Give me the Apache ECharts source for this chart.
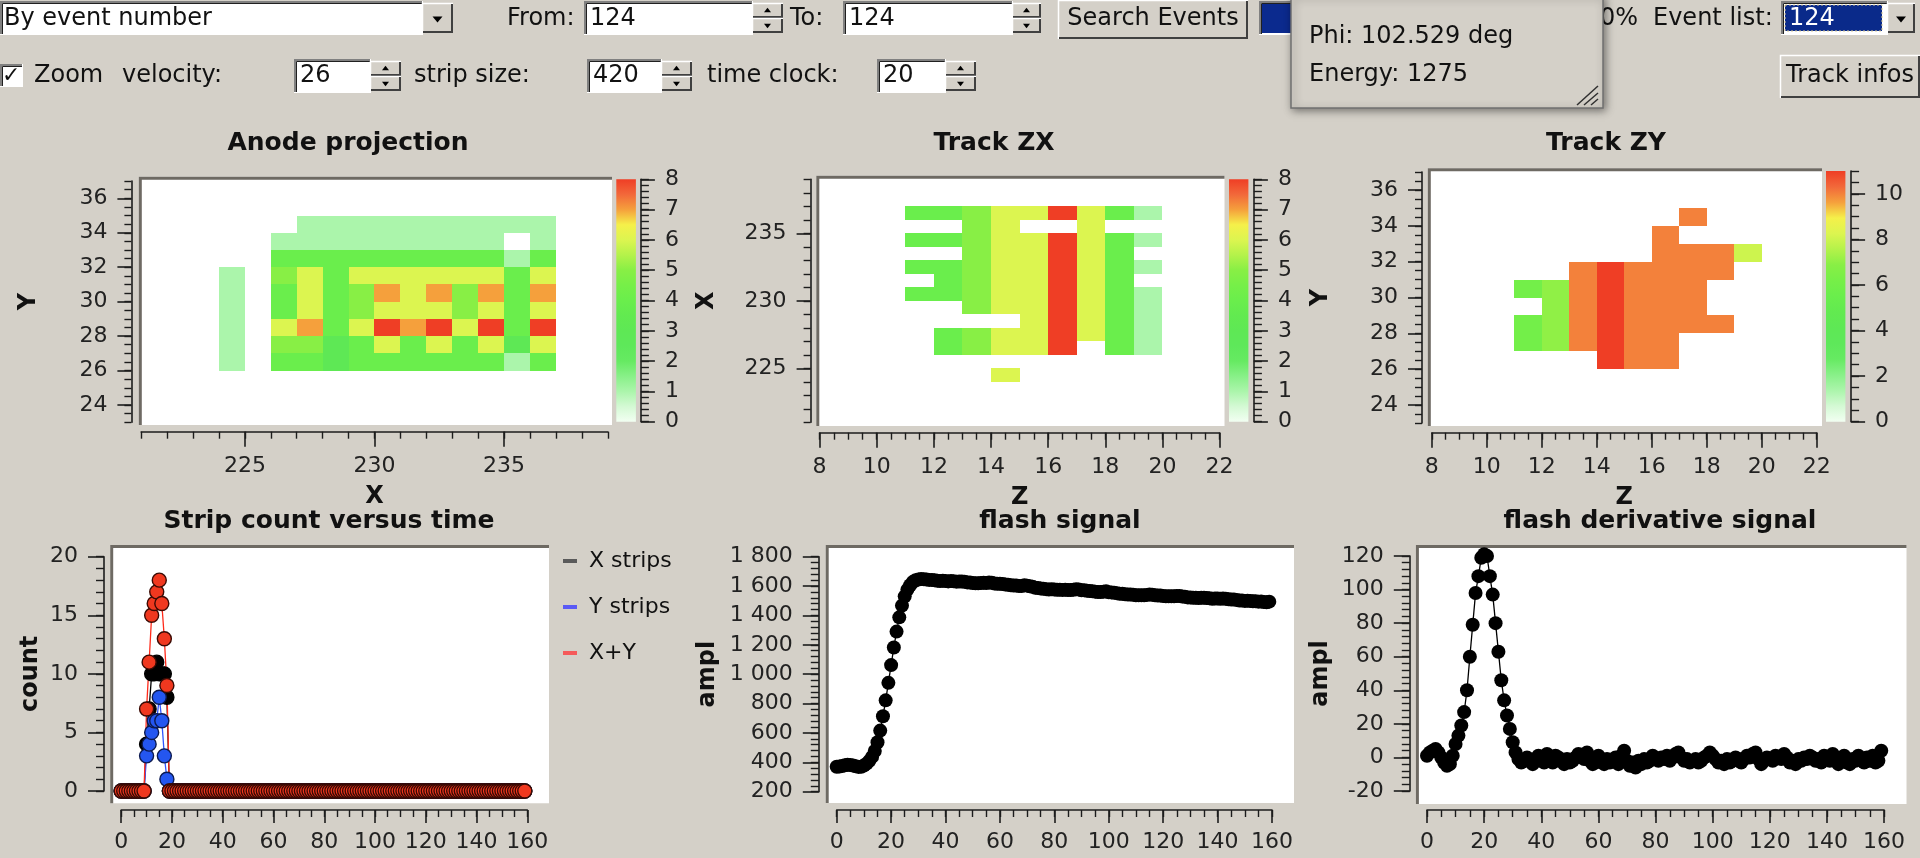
<!DOCTYPE html>
<html>
<head>
<meta charset="utf-8">
<script src="https://cdn.jsdelivr.net/npm/echarts@6/dist/echarts.min.js"></script>
<style>
html,body{margin:0;padding:0;background:#d4d0c8;overflow:hidden;}
#c{width:1920px;height:858px;}
</style>
</head>
<body>
<div id="c"></div>
<script>
// ================= DATA =================
// Anode projection cells: [x, y, count]
const anodeCells = [
  [227,34,1],[228,34,1],[229,34,1],[230,34,1],[231,34,1],[232,34,1],[233,34,1],[234,34,1],[235,34,1],[236,34,1],
  [226,33,1],[227,33,1],[228,33,1],[229,33,1],[230,33,1],[231,33,1],[232,33,1],[233,33,1],[234,33,1],[236,33,1],
  [226,32,4],[227,32,4],[228,32,4],[229,32,4],[230,32,4],[231,32,4],[232,32,4],[233,32,4],[234,32,4],[235,32,1],[236,32,4],
  [226,31,5],[227,31,6],[228,31,4],[229,31,6],[230,31,6],[231,31,6],[232,31,6],[233,31,6],[234,31,6],[235,31,4],[236,31,6],
  [226,30,4],[227,30,6],[228,30,4],[229,30,5],[230,30,7],[231,30,6],[232,30,7],[233,30,5],[234,30,7],[235,30,4],[236,30,7],
  [226,29,4],[227,29,6],[228,29,4],[229,29,5],[230,29,6],[231,29,6],[232,29,6],[233,29,5],[234,29,6],[235,29,4],[236,29,6],
  [226,28,6],[227,28,7],[228,28,4],[229,28,6],[230,28,8],[231,28,7],[232,28,8],[233,28,6],[234,28,8],[235,28,4],[236,28,8],
  [226,27,5],[227,27,5],[228,27,3],[229,27,4],[230,27,6],[231,27,4],[232,27,6],[233,27,4],[234,27,6],[235,27,3],[236,27,6],
  [226,26,4],[227,26,4],[228,26,3],[229,26,4],[230,26,4],[231,26,4],[232,26,4],[233,26,4],[234,26,4],[235,26,1],[236,26,4],
  [224,26,1],[224,27,1],[224,28,1],[224,29,1],[224,30,1],[224,31,1]
];
// Track ZX cells: [z, x, count]
const zxCells = [
  [11,236,4],[12,236,4],[13,236,5],[14,236,6],[15,236,6],[16,236,8],[17,236,6],[18,236,4],[19,236,1],
  [13,235,5],[14,235,6],[17,235,6],
  [11,234,4],[12,234,4],[13,234,5],[14,234,6],[15,234,6],[16,234,8],[17,234,6],[18,234,4],[19,234,1],
  [13,233,5],[14,233,6],[15,233,6],[16,233,8],[17,233,6],[18,233,4],
  [11,232,4],[12,232,4],[13,232,5],[14,232,6],[15,232,6],[16,232,8],[17,232,6],[18,232,4],[19,232,1],
  [12,231,4],[13,231,5],[14,231,6],[15,231,6],[16,231,8],[17,231,6],[18,231,4],
  [11,230,4],[12,230,4],[13,230,5],[14,230,6],[15,230,6],[16,230,8],[17,230,6],[18,230,4],[19,230,1],
  [13,229,5],[14,229,6],[15,229,6],[16,229,8],[17,229,6],[18,229,4],[19,229,1],
  [15,228,6],[16,228,8],[17,228,6],[18,228,4],[19,228,1],
  [12,227,4],[13,227,5],[14,227,6],[15,227,6],[16,227,8],[17,227,6],[18,227,4],[19,227,1],
  [12,226,4],[13,226,5],[14,226,6],[15,226,6],[16,226,8],[18,226,4],[19,226,1],
  [14,224,6]
];
// Track ZY cells: [z, y, count]
const zyCells = [
  [17,34,10],
  [16,33,10],
  [16,32,10],[17,32,10],[18,32,10],[19,32,8],
  [13,31,10],[14,31,11],[15,31,10],[16,31,10],[17,31,10],[18,31,10],
  [11,30,6],[12,30,7],[13,30,10],[14,30,11],[15,30,10],[16,30,10],[17,30,10],
  [12,29,7],[13,29,10],[14,29,11],[15,29,10],[16,29,10],[17,29,10],
  [11,28,6],[12,28,7],[13,28,10],[14,28,11],[15,28,10],[16,28,10],[17,28,10],[18,28,10],
  [11,27,6],[12,27,7],[13,27,10],[14,27,11],[15,27,10],[16,27,10],
  [14,26,11],[15,26,10],[16,26,10]
];

// Strip count versus time (time bins 0..159)
const stripX = [
  0,0,0,0,0,0,0,0,0,0, 4,7,10,10,11,10,10,10,8,0,
  0,0,0,0,0,0,0,0,0,0, 0,0,0,0,0,0,0,0,0,0,
  0,0,0,0,0,0,0,0,0,0, 0,0,0,0,0,0,0,0,0,0,
  0,0,0,0,0,0,0,0,0,0, 0,0,0,0,0,0,0,0,0,0,
  0,0,0,0,0,0,0,0,0,0, 0,0,0,0,0,0,0,0,0,0,
  0,0,0,0,0,0,0,0,0,0, 0,0,0,0,0,0,0,0,0,0,
  0,0,0,0,0,0,0,0,0,0, 0,0,0,0,0,0,0,0,0,0,
  0,0,0,0,0,0,0,0,0,0, 0,0,0,0,0,0,0,0,0,0
];
const stripY = [
  0,0,0,0,0,0,0,0,0,0, 3,4,5,6,6,8,6,3,1,0,
  0,0,0,0,0,0,0,0,0,0, 0,0,0,0,0,0,0,0,0,0,
  0,0,0,0,0,0,0,0,0,0, 0,0,0,0,0,0,0,0,0,0,
  0,0,0,0,0,0,0,0,0,0, 0,0,0,0,0,0,0,0,0,0,
  0,0,0,0,0,0,0,0,0,0, 0,0,0,0,0,0,0,0,0,0,
  0,0,0,0,0,0,0,0,0,0, 0,0,0,0,0,0,0,0,0,0,
  0,0,0,0,0,0,0,0,0,0, 0,0,0,0,0,0,0,0,0,0,
  0,0,0,0,0,0,0,0,0,0, 0,0,0,0,0,0,0,0,0,0
];
const stripXY = [
  0,0,0,0,0,0,0,0,0,0, 7,11,15,16,17,18,16,13,9,0,
  0,0,0,0,0,0,0,0,0,0, 0,0,0,0,0,0,0,0,0,0,
  0,0,0,0,0,0,0,0,0,0, 0,0,0,0,0,0,0,0,0,0,
  0,0,0,0,0,0,0,0,0,0, 0,0,0,0,0,0,0,0,0,0,
  0,0,0,0,0,0,0,0,0,0, 0,0,0,0,0,0,0,0,0,0,
  0,0,0,0,0,0,0,0,0,0, 0,0,0,0,0,0,0,0,0,0,
  0,0,0,0,0,0,0,0,0,0, 0,0,0,0,0,0,0,0,0,0,
  0,0,0,0,0,0,0,0,0,0, 0,0,0,0,0,0,0,0,0,0
];
// flash signal (samples 0..159)
const flashVals = [
  370,372,375,380,383,382,378,373,369,370,
  378,391,410,437,477,537,616,714,822,941,
  1062,1182,1290,1387,1467,1530,1576,1606,1628,1640,
  1645,1648,1647,1644,1642,1642,1640,1636,1635,1636,
  1635,1632,1634,1633,1630,1631,1631,1629,1625,1624,
  1621,1619,1619,1621,1622,1621,1624,1622,1618,1615,
  1616,1614,1610,1609,1606,1604,1604,1600,1601,1605,
  1603,1598,1595,1589,1587,1583,1582,1579,1577,1578,
  1577,1575,1575,1574,1575,1573,1573,1575,1578,1577,
  1572,1571,1568,1566,1565,1562,1560,1560,1561,1564,
  1558,1557,1554,1552,1548,1547,1544,1542,1542,1541,
  1538,1537,1538,1538,1540,1542,1541,1537,1535,1535,
  1532,1530,1531,1531,1530,1532,1532,1529,1527,1523,
  1522,1520,1520,1519,1520,1520,1518,1517,1514,1515,
  1515,1513,1515,1514,1510,1508,1509,1506,1502,1501,
  1499,1500,1499,1496,1496,1494,1495,1492,1490,1494
];
// flash derivative signal (samples 0..159)
const derivVals = [
  1,3,4,5,3,0,-3,-5,-4,1,
  8,13,19,27,40,60,79,98,108,119,
  121,120,108,97,80,63,46,34,25,17,
  9,3,-1,-3,-2,0,-2,-4,-1,1,
  -1,-3,2,-1,-3,1,0,-2,-4,-1,
  -3,-2,0,2,1,-1,3,-2,-4,-3,
  1,-2,-4,-1,-3,-2,0,-4,1,4,
  -2,-5,-3,-6,-2,-4,-1,-3,-2,1,
  -1,-2,0,-1,1,-2,0,2,3,0,
  -2,-1,-3,-2,-1,-3,-2,0,1,3,
  1,-1,-3,-2,-4,-1,-3,-2,0,-1,
  -3,-1,1,0,2,3,-1,-4,-2,0,
  -1,-2,1,0,-1,2,0,-3,-2,-4,
  -1,-2,0,-1,1,0,-2,-1,-3,1,
  0,-2,2,-1,-4,-2,1,-3,-4,-1,
  -2,1,-1,-3,0,-2,1,-3,-2,4
];

// Tick labels
const anodeXTicks = [225,230,235];
const yStripTicks = [24,26,28,30,32,34,36];
const zTicks = [8,10,12,14,16,18,20,22];
const zxXTicks = [225,230,235];
const cb8Ticks = [0,1,2,3,4,5,6,7,8];
const cb11Ticks = [0,2,4,6,8,10];
const timeTicks = [0,20,40,60,80,100,120,140,160];
const countTicks = [0,5,10,15,20];
const flashTicks = [200,400,600,800,1000,1200,1400,1600,1800];
const derivTicks = [-20,0,20,40,60,80,100,120];

// Colour scale (evenly spaced stops, white -> green -> yellow -> red)
const PALETTE = ['#f2fff2','#d4f9d4','#abf5ab','#88f088','#66ea62','#5ee85a','#5ee855','#62ea50',
                 '#6aee4c','#76ef48','#88ef45','#b4f24a','#dcf550','#f5f04a','#f5a03c','#f2683a','#ef3e25'];

// ================= STYLE / LAYOUT =================
const FONT = 'DejaVu Sans';
const BG = '#d4d0c8';
const INK = '#1c1c1c';
const GUI_SIZE = 24;

const grids = [], xAxis = [], yAxis = [], series = [];

function addGrid(r) {
  grids.push({left:r[0], top:r[1], width:r[2], height:r[3], show:false, containLabel:false, outerBoundsMode:'none'});
  return grids.length - 1;
}
function axisPair(dim, gi, a) {
  const pos = dim === 'x' ? 'bottom' : (a.right ? 'right' : 'left');
  const common = {type:'value', gridIndex:gi, min:a.min, max:a.max, position:pos, offset:a.offset,
                  splitLine:{show:false}, axisPointer:{show:false}, silent:true};
  const lbl = {show:true, customValues:a.labels, margin:a.margin, fontSize:22, fontFamily:FONT, color:'#222'};
  if (a.fmt) lbl.formatter = a.fmt;
  const major = Object.assign({}, common, {
    axisLine:{show:true, onZero:false, lineStyle:{color:INK, width:1.6}},
    axisTick:{show:true, customValues:a.labels, length:a.majorLen, lineStyle:{color:INK, width:1.6}},
    axisLabel:lbl
  });
  if (a.name) {
    major.name = a.name; major.nameLocation = 'middle'; major.nameGap = a.nameGap;
    major.nameTextStyle = {fontSize:24, fontWeight:'bold', fontFamily:FONT, color:'#111'};
  }
  const minor = Object.assign({}, common, {
    interval:a.minor,
    axisLine:{show:false, onZero:false},
    axisTick:{show:true, length:a.minorLen, lineStyle:{color:INK, width:1.4}},
    axisLabel:{show:false}
  });
  return [major, minor];
}
function addAxes(list, dim, gi, a) {
  const p = axisPair(dim, gi, a);
  const idx = list.length;
  list.push(p[0], p[1]);
  return idx;
}

function cellRender(params, api) {
  const x = api.value(0), y = api.value(1);
  const a = api.coord([x, y + 1]), b = api.coord([x + 1, y]);
  const x0 = Math.round(a[0]), y0 = Math.round(a[1]), x1 = Math.round(b[0]), y1 = Math.round(b[1]);
  return {type:'rect', shape:{x:x0, y:y0, width:x1 - x0, height:y1 - y0}, style:{fill:api.visual('color')}};
}
function barRender(params, api) {
  const cs = params.coordSys;
  const stops = PALETTE.map((c, i) => ({offset:i / (PALETTE.length - 1), color:c}));
  return {type:'rect', shape:{x:cs.x, y:cs.y, width:cs.width, height:cs.height},
          style:{fill:new echarts.graphic.LinearGradient(0, 1, 0, 0, stops)}};
}

function heatPanel(cells, g, xa, ya, cb, cbA) {
  const gi = addGrid(g);
  const xi = addAxes(xAxis, 'x', gi, xa);
  const yi = addAxes(yAxis, 'y', gi, ya);
  const si = series.length;
  series.push({type:'custom', xAxisIndex:xi, yAxisIndex:yi, data:cells, renderItem:cellRender,
               encode:{x:0, y:1}, silent:true, animation:false});
  const gc = addGrid(cb);
  const cx = xAxis.length;
  xAxis.push({type:'value', gridIndex:gc, min:0, max:1, show:false});
  const cy = addAxes(yAxis, 'y', gc, cbA);
  series.push({type:'custom', xAxisIndex:cx, yAxisIndex:cy, data:[[0, 0]], renderItem:barRender, silent:true, animation:false});
  return si;
}

const hx = {majorLen:15, minorLen:7, margin:24};
const hy = {majorLen:14, minorLen:7, margin:24};
const cbs = {right:true, majorLen:14, minorLen:8, margin:24};

const sAnode = heatPanel(anodeCells, [141.2,181.1,466.6,241.1],
  Object.assign({min:221, max:239, labels:anodeXTicks, minor:1, offset:9.5, name:'X', nameGap:53}, hx),
  Object.assign({min:23, max:37, labels:yStripTicks, minor:0.5, offset:9.8, name:'Y', nameGap:91}, hy),
  [616.3,179.3,19.6,242.4],
  Object.assign({min:0, max:8, labels:cb8Ticks, minor:0.2, offset:5}, cbs));

const sZX = heatPanel(zxCells, [819.6,179.3,400,243],
  Object.assign({min:8, max:22, labels:zTicks, minor:0.5, offset:10.4, name:'Z', nameGap:53}, hx),
  Object.assign({min:221, max:239, labels:zxXTicks, minor:1, offset:9, name:'X', nameGap:92}, hy),
  [1229,179.3,19.4,242.4],
  Object.assign({min:0, max:8, labels:cb8Ticks, minor:0.2, offset:5.5}, cbs));

const sZY = heatPanel(zyCells, [1431.8,172.1,384.9,250.9],
  Object.assign({min:8, max:22, labels:zTicks, minor:0.5, offset:9.7, name:'Z', nameGap:53}, hx),
  Object.assign({min:23, max:37, labels:yStripTicks, minor:0.5, offset:9.8, name:'Y', nameGap:89}, hy),
  [1826,171,19.4,250.7],
  Object.assign({min:0, max:11, labels:cb11Ticks, minor:0.5, offset:5.7}, cbs));

// ---- bottom line charts ----
const bx = {min:0, max:160, labels:timeTicks, minor:5, majorLen:13, minorLen:7, margin:21};
const by = {majorLen:16, minorLen:8, margin:26};
const TIME = stripX.map((v, i) => i);

function thousands(v) {
  return v >= 1000 ? Math.floor(v / 1000) + ' ' + String(v % 1000).padStart(3, '0') : String(v);
}

// Strip count
const gS = addGrid([121.2,556.7,406.1,234.3]);
const xS = addAxes(xAxis, 'x', gS, Object.assign({offset:19}, bx));
const yS = addAxes(yAxis, 'y', gS, Object.assign({min:0, max:20, labels:countTicks, minor:1, offset:17.2, name:'count', nameGap:61}, by));
function stripSeries(name, vals, fill, border, line) {
  return {type:'line', name:name, xAxisIndex:xS, yAxisIndex:yS, data:TIME.map((t, i) => [t, vals[i]]),
          symbol:'circle', symbolSize:14, showSymbol:true, showAllSymbol:true, clip:false, animation:false,
          itemStyle:{color:fill, borderColor:border, borderWidth:1.4}, lineStyle:{color:line, width:1.3},
          emphasis:{disabled:true}};
}
series.push(stripSeries('X strips', stripX, '#000000', '#000000', '#000000'));
series.push(stripSeries('Y strips', stripY, '#2456f0', '#0c1a50', '#2f55ff'));
series.push(stripSeries('X+Y', stripXY, '#f0381f', '#3a0a04', '#ff2a1a'));

// Flash signal
const gF = addGrid([836.7,556.7,435.3,235]);
const xF = addAxes(xAxis, 'x', gF, Object.assign({offset:18.3}, bx));
const yF = addAxes(yAxis, 'y', gF, Object.assign({min:200, max:1800, labels:flashTicks, minor:40, offset:17.9, name:'ampl', nameGap:99, fmt:thousands}, by));
series.push({type:'line', name:'flash', xAxisIndex:xF, yAxisIndex:yF, data:TIME.map((t, i) => [t, flashVals[i]]),
  symbol:'circle', symbolSize:14, showAllSymbol:true, clip:false, animation:false,
  itemStyle:{color:'#000'}, lineStyle:{color:'#000', width:1.3}, emphasis:{disabled:true}});

// Flash derivative
const gD = addGrid([1427,556,457.1,235]);
const xD = addAxes(xAxis, 'x', gD, Object.assign({offset:19}, bx));
const yD = addAxes(yAxis, 'y', gD, Object.assign({min:-20, max:120, labels:derivTicks, minor:4, offset:17.2, name:'ampl', nameGap:77}, by));
series.push({type:'line', name:'flash derivative', xAxisIndex:xD, yAxisIndex:yD, data:TIME.map((t, i) => [t, derivVals[i]]),
  symbol:'circle', symbolSize:14, showAllSymbol:true, clip:false, animation:false,
  itemStyle:{color:'#000'}, lineStyle:{color:'#000', width:1.3}, emphasis:{disabled:true}});

// ================= GUI CHROME (graphic) =================
const G = [];
function frame(x0, y0, x1, y1) {
  G.push({type:'rect', z:-1, shape:{x:x0, y:y0, width:x1 - x0, height:y1 - y0}, style:{fill:'#ffffff'}});
  G.push({type:'polyline', z:-1, shape:{points:[[x0 + 1.5, y1], [x0 + 1.5, y0 + 1.5], [x1, y0 + 1.5]]},
          style:{stroke:'#6e6a63', lineWidth:3, fill:'none'}});
}
function sunken(x, y, w, h, fill) {
  G.push({type:'rect', shape:{x:x, y:y, width:w, height:h}, style:{fill:fill || '#ffffff'}});
  G.push({type:'polyline', shape:{points:[[x + 1, y + h], [x + 1, y + 1], [x + w, y + 1]]}, style:{stroke:'#808080', lineWidth:2, fill:'none'}});
  G.push({type:'polyline', shape:{points:[[x + 2.5, y + h - 1], [x + 2.5, y + 2.5], [x + w - 1, y + 2.5]]}, style:{stroke:'#202020', lineWidth:1, fill:'none'}});
  G.push({type:'polyline', shape:{points:[[x, y + h - 0.5], [x + w - 0.5, y + h - 0.5], [x + w - 0.5, y]]}, style:{stroke:'#ffffff', lineWidth:1, fill:'none'}});
}
function raised(x, y, w, h) {
  G.push({type:'rect', shape:{x:x, y:y, width:w, height:h}, style:{fill:BG}});
  G.push({type:'polyline', shape:{points:[[x + 0.5, y + h], [x + 0.5, y + 0.5], [x + w, y + 0.5]]}, style:{stroke:'#ffffff', lineWidth:1.5, fill:'none'}});
  G.push({type:'polyline', shape:{points:[[x + 1, y + h - 1], [x + w - 1, y + h - 1], [x + w - 1, y + 1]]}, style:{stroke:'#404040', lineWidth:2, fill:'none'}});
}
function tri(cx, cy, s, down) {
  const pts = down ? [[cx - s, cy - s / 2], [cx + s, cy - s / 2], [cx, cy + s / 2 + 1]]
                   : [[cx - s, cy + s / 2], [cx + s, cy + s / 2], [cx, cy - s / 2 - 1]];
  G.push({type:'polygon', shape:{points:pts}, style:{fill:'#000'}});
}
function spinner(x, y, w, h) {
  raised(x, y, w, h / 2);
  raised(x, y + h / 2, w, h / 2);
  tri(x + w / 2, y + h / 4, 3.5, false);
  tri(x + w / 2, y + 3 * h / 4, 3.5, true);
}
function txt(s, x, y, o) {
  o = o || {};
  G.push({type:'text', x:x, y:y, z:o.z || 5, style:{text:s, fontSize:o.size || GUI_SIZE, fontFamily:FONT,
          fontWeight:o.bold ? 'bold' : 'normal', fill:o.color || '#111',
          textAlign:o.align || 'left', align:o.align || 'left', textVerticalAlign:'middle', verticalAlign:'middle'}});
}

// plot frames
frame(138.8, 176.7, 612, 425);
frame(816.3, 175.7, 1224.5, 426);
frame(1427.8, 168.3, 1822, 426);
frame(110.2, 545, 549, 803.3);
frame(825.7, 545, 1294, 803);
frame(1415.9, 545, 1906.5, 804);

// Row 1
const r1 = 1, r1h = 34, r1c = 19;
sunken(0, r1, 423, r1h);
txt('By event number', 4, r1c);
raised(422, r1 + 2, 31, r1h - 4); tri(437.5, r1c, 5, true);
txt('From:', 507, r1c);
sunken(584, r1, 169, r1h); txt('124', 590, r1c);
spinner(752, r1 + 2, 31, r1h - 4);
txt('To:', 790, r1c);
sunken(843, r1, 170, r1h); txt('124', 849, r1c);
spinner(1012, r1 + 2, 29, r1h - 4);
raised(1058, 0, 190, 39);
txt('Search Events', 1153, r1c, {align:'center'});
sunken(1259, r1, 33, r1h);
G.push({type:'rect', shape:{x:1262, y:r1 + 3, width:30, height:r1h - 5}, style:{fill:'#0b2a8e'}});
txt('0%', 1600, r1c);
txt('Event list:', 1653, r1c);
sunken(1781, r1, 107, r1h);
G.push({type:'rect', shape:{x:1785, y:r1 + 4, width:97, height:r1h - 8}, style:{fill:'#0a2a8a', stroke:'#d8c890', lineWidth:1, lineDash:[2, 2]}});
txt('124', 1789, r1c, {color:'#ffffff'});
raised(1887, r1 + 2, 28, r1h - 4); tri(1901, r1c, 5, true);

// Row 2
const r2 = 59, r2h = 34, r2c = 76;
sunken(0, 64, 23, 23);
txt('\u2713', 2, 76, {size:22, bold:true});
txt('Zoom', 34, r2c);
txt('velocity:', 122, r2c);
sunken(294, r2, 77, r2h); txt('26', 300, r2c);
spinner(370, r2 + 2, 31, r2h - 4);
txt('strip size:', 414, r2c);
sunken(587, r2, 75, r2h); txt('420', 593, r2c);
spinner(661, r2 + 2, 31, r2h - 4);
txt('time clock:', 707, r2c);
sunken(877, r2, 69, r2h); txt('20', 883, r2c);
spinner(945, r2 + 2, 31, r2h - 4);
raised(1780, 55, 140, 43);
txt('Track infos', 1850, 76, {align:'center'});

// Popup info window
G.push({type:'rect', z:6, shape:{x:1291, y:-4, width:312, height:112},
        style:{fill:BG, stroke:'#707070', lineWidth:1.5, shadowBlur:8, shadowColor:'rgba(0,0,0,0.45)', shadowOffsetX:2, shadowOffsetY:2}});
txt('Phi: 102.529 deg', 1309, 37, {z:7});
txt('Energy: 1275', 1309, 75, {z:7});
[[1577, 105, 1598, 86], [1584, 105, 1598, 93], [1591, 105, 1598, 99]].forEach(l => {
  G.push({type:'line', z:7, shape:{x1:l[0], y1:l[1], x2:l[2], y2:l[3]}, style:{stroke:'#303030', lineWidth:1.5}});
});

// ================= OPTION =================
const titleStyle = {fontSize:25, fontWeight:'bold', fontFamily:FONT, color:'#111'};
function title(text, cx, cy) {
  return {text:text, left:cx, top:cy, textAlign:'center', textVerticalAlign:'middle', padding:0, textStyle:titleStyle};
}

const option = {
  backgroundColor: BG,
  animation: false,
  textStyle: {fontFamily: FONT},
  title: [
    title('Anode projection', 348, 143),
    title('Track ZX', 994, 143),
    title('Track ZY', 1606, 143),
    title('Strip count versus time', 329, 521),
    title('flash signal', 1060, 521),
    title('flash derivative signal', 1660, 521)
  ],
  legend: {
    orient:'vertical', left:563, top:550, padding:0, itemGap:24, icon:'rect', itemWidth:14, itemHeight:4,
    selectedMode:false,
    textStyle:{fontSize:22, fontFamily:FONT, color:'#111', padding:[0, 0, 0, 7]},
    data:[
      {name:'X strips', itemStyle:{color:'#5a5a5a', borderWidth:0}},
      {name:'Y strips', itemStyle:{color:'#5a5af5', borderWidth:0}},
      {name:'X+Y', itemStyle:{color:'#f55a5a', borderWidth:0}}
    ]
  },
  visualMap: [
    {type:'continuous', show:false, seriesIndex:sAnode, dimension:2, min:0, max:8, inRange:{color:PALETTE}},
    {type:'continuous', show:false, seriesIndex:sZX, dimension:2, min:0, max:8, inRange:{color:PALETTE}},
    {type:'continuous', show:false, seriesIndex:sZY, dimension:2, min:0, max:11, inRange:{color:PALETTE}}
  ],
  grid: grids,
  xAxis: xAxis,
  yAxis: yAxis,
  series: series,
  graphic: {elements: G}
};

const chart = echarts.init(document.getElementById('c'), null, {renderer:'canvas', width:1920, height:858});
chart.setOption(option);
</script>
</body>
</html>
